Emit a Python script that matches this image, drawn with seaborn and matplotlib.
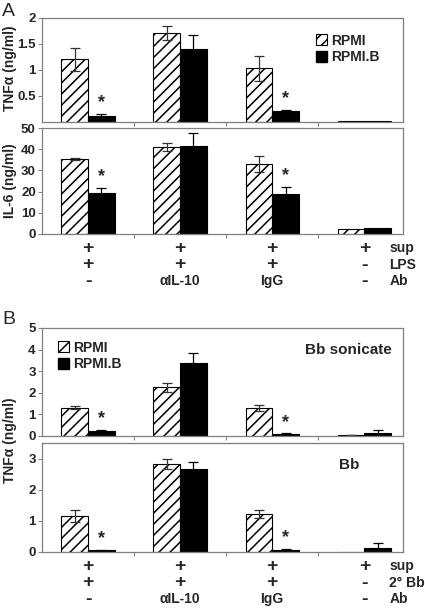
import numpy as np
import pandas as pd
import matplotlib
matplotlib.use("Agg")
import matplotlib.pyplot as plt
import seaborn as sns
from matplotlib.patches import Patch

sns.set_style("white")
plt.rcParams['font.family'] = ['Liberation Sans', 'DejaVu Sans']
plt.rcParams['font.weight'] = 'bold'
plt.rcParams['hatch.linewidth'] = 1.1

groups = ['g1', 'g2', 'g3', 'g4']
series = ['RPMI', 'RPMI.B']

# panel A
tnf_a_rpmi = [1.21, 1.71, 1.03, 0.02]
tnf_a_rpmi_err = [0.22, 0.13, 0.24, 0.0]
tnf_a_rpmib = [0.12, 1.40, 0.21, 0.02]
tnf_a_rpmib_err = [0.03, 0.28, 0.03, 0.0]

il6_rpmi = [35.3, 41.0, 33.0, 2.2]
il6_rpmi_err = [0.6, 2.0, 3.8, 0.0]
il6_rpmib = [19.2, 41.5, 18.8, 2.8]
il6_rpmib_err = [2.4, 6.0, 3.3, 0.0]

# panel B
tnf_son_rpmi = [1.30, 2.25, 1.28, 0.04]
tnf_son_rpmi_err = [0.07, 0.20, 0.14, 0.01]
tnf_son_rpmib = [0.22, 3.37, 0.08, 0.12]
tnf_son_rpmib_err = [0.05, 0.46, 0.04, 0.16]

tnf_bb_rpmi = [1.16, 2.83, 1.22, 0.01]
tnf_bb_rpmi_err = [0.20, 0.16, 0.14, 0.0]
tnf_bb_rpmib = [0.05, 2.66, 0.05, 0.13]
tnf_bb_rpmib_err = [0.02, 0.24, 0.05, 0.17]

star_groups = [0, 2]

rows_a = [['+', '+', '+', '+'], ['+', '+', '+', '-'], ['-', 'αIL-10', 'IgG', '-']]
row_names_a = ['sup', 'LPS', 'Ab']
rows_b = [['+', '+', '+', '+'], ['+', '+', '+', '-'], ['-', 'αIL-10', 'IgG', '-']]
row_names_b = ['sup', '2° Bb', 'Ab']

FRAME = '#7f7f7f'


def panel(ax, v1, e1, v2, e2, ylim, yticks, yticklabels):
    df = pd.DataFrame({'group': groups * 2,
                       'series': [series[0]] * 4 + [series[1]] * 4,
                       'value': list(v1) + list(v2)})
    sns.barplot(data=df, x='group', y='value', hue='series', ax=ax,
                palette=['white', 'black'], edgecolor='black', linewidth=0.8,
                width=0.58, errorbar=None, legend=False)
    bars = ax.patches[:8]
    errs = list(e1) + list(e2)
    for i, p in enumerate(bars):
        if i < 4:
            p.set_hatch('///')
        x = p.get_x() + p.get_width() / 2
        if errs[i] > 0:
            ax.errorbar(x, p.get_height(), yerr=errs[i], fmt='none',
                        ecolor='#333333' if i < 4 else 'black',
                        elinewidth=0.9, capsize=3.5, capthick=0.9)
    for g in star_groups:
        p = bars[4 + g]
        x = p.get_x() + p.get_width() / 2
        top = p.get_height() + errs[4 + g]
        ax.annotate('*', (x, top), xytext=(0, 2), textcoords='offset points',
                    ha='center', va='bottom', fontsize=13, fontweight='bold')
    ax.set_xlim(-0.5, 3.42)
    ax.set_ylim(*ylim)
    ax.set_yticks(yticks)
    ax.set_yticklabels(yticklabels, fontsize=9.5, fontweight='bold')
    ax.set_xticks([0.5, 1.5, 2.5])
    ax.set_xticklabels([])
    ax.set_xlabel('')
    ax.set_ylabel('')
    ax.tick_params(axis='both', direction='out', length=3, width=0.7,
                   color=FRAME, left=True, bottom=True, pad=1.5)
    for s in ax.spines.values():
        s.set_color(FRAME)
        s.set_linewidth(0.9)


def table(ax, rows, names):
    offs = [-14, -31, -47]
    for r, row in enumerate(rows):
        for g, t in enumerate(row):
            fs = 14 if t in ('+', '-') else 10
            ax.annotate(t, (g, 0), xycoords=('data', 'axes fraction'),
                        xytext=(0, offs[r] * 0.72), textcoords='offset points',
                        ha='center', va='center', fontsize=fs, fontweight='bold')
        ax.annotate(names[r], (3.27, 0), xycoords=('data', 'axes fraction'),
                    xytext=(0, offs[r] * 0.72), textcoords='offset points',
                    ha='left', va='center', fontsize=10, fontweight='bold',
                    annotation_clip=False)


def legend(ax, loc, anchor):
    h = [Patch(facecolor='white', edgecolor='black', hatch='///', linewidth=0.8),
         Patch(facecolor='black', edgecolor='black')]
    ax.legend(h, series, loc=loc, bbox_to_anchor=anchor, frameon=False,
              handlelength=0.8, handleheight=0.8, handletextpad=0.3,
              labelspacing=0.2, prop={'size': 10, 'weight': 'bold'})


fig = plt.figure(figsize=(4.25, 6.1), dpi=100)
W, H = 425.0, 610.0


def box(l, t, r, b):
    return [l / W, 1 - b / H, (r - l) / W, (b - t) / H]


ax1 = fig.add_axes(box(42, 18, 403, 122))
ax2 = fig.add_axes(box(42, 128, 403, 234))
ax3 = fig.add_axes(box(42, 328, 403, 436))
ax4 = fig.add_axes(box(42, 443, 403, 552))

panel(ax1, tnf_a_rpmi, tnf_a_rpmi_err, tnf_a_rpmib, tnf_a_rpmib_err,
      (0, 2), [0.5, 1, 1.5, 2], ['0.5', '1', '1.5', '2'])
panel(ax2, il6_rpmi, il6_rpmi_err, il6_rpmib, il6_rpmib_err,
      (0, 50), [0, 10, 20, 30, 40, 50], ['0', '10', '20', '30', '40', '50'])
panel(ax3, tnf_son_rpmi, tnf_son_rpmi_err, tnf_son_rpmib, tnf_son_rpmib_err,
      (0, 5), [0, 1, 2, 3, 4, 5], ['0', '1', '2', '3', '4', '5'])
panel(ax4, tnf_bb_rpmi, tnf_bb_rpmi_err, tnf_bb_rpmib, tnf_bb_rpmib_err,
      (0, 3.5), [0, 1, 2, 3], ['0', '1', '2', '3'])

legend(ax1, 'upper right', (0.97, 0.97))
legend(ax3, 'upper left', (0.01, 1.0))

ax3.text(0.97, 0.8, 'Bb sonicate', transform=ax3.transAxes, ha='right',
         va='center', fontsize=11, fontweight='bold')
ax4.text(0.88, 0.8, 'Bb', transform=ax4.transAxes, ha='right',
         va='center', fontsize=11, fontweight='bold')

table(ax2, rows_a, row_names_a)
table(ax4, rows_b, row_names_b)

fig.text(10 / W, 1 - 68 / H, 'TNFα (ng/ml)', rotation=90, ha='center',
         va='center', fontsize=10, fontweight='bold')
fig.text(10 / W, 1 - 181 / H, 'IL-6 (ng/ml)', rotation=90, ha='center',
         va='center', fontsize=10, fontweight='bold')
fig.text(10 / W, 1 - 440 / H, 'TNFα (ng/ml)', rotation=90, ha='center',
         va='center', fontsize=10, fontweight='bold')
fig.text(2 / W, 1 - 12 / H, 'A', ha='left', va='center', fontsize=14,
         fontweight='normal')
fig.text(2 / W, 1 - 320 / H, 'B', ha='left', va='center', fontsize=14,
         fontweight='normal')

fig.savefig('out.png', dpi=100)
